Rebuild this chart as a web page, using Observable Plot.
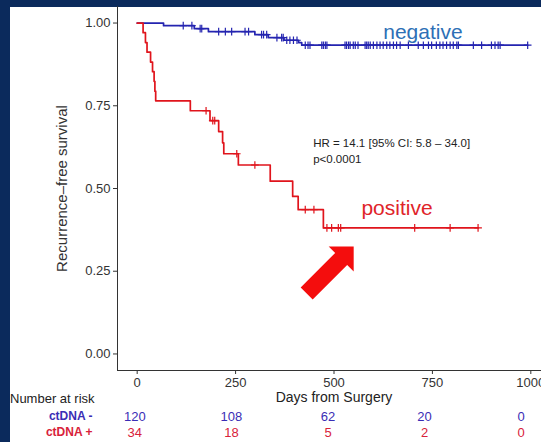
<!DOCTYPE html>
<html>
<head>
<meta charset="utf-8">
<script src="https://cdn.jsdelivr.net/npm/d3@7"></script>
<script src="https://cdn.jsdelivr.net/npm/@observablehq/plot@0.6"></script>
<style>
  html, body { margin: 0; padding: 0; }
  body {
    width: 541px; height: 442px; overflow: hidden; position: relative;
    background: #0b2a5c;
    font-family: "Liberation Sans", Arial, sans-serif;
  }
  #panel { position: absolute; left: 10px; top: 7px; width: 531px; height: 435px; background: #fff; }
  #chart { position: absolute; left: 0; top: 0; }
  #riskTitle { position: absolute; left: 10px; top: 391px; font-size: 13px; color: #222; }
  #risk { position: absolute; left: 0; top: 408px; }
</style>
</head>
<body>
<div id="panel"></div>
<div id="chart"></div>
<div id="riskTitle">Number at risk</div>
<div id="risk"></div>
<script>
// Kaplan–Meier estimate, ctDNA negative: event days and survival just after each event
const negStepDay  = [0, 67, 145, 181, 299, 333, 373, 410, 418];
const negStepSurv = [1, 0.992, 0.983, 0.974, 0.965, 0.956, 0.948, 0.941, 0.933];
// censored patients (days)
const negCensorDay = [117, 139, 160, 164, 207, 224, 240, 274, 283, 316, 321, 329, 355, 367, 371,
  380, 388, 397, 406, 427, 434, 439, 469, 473, 478, 482, 528, 532, 537, 541, 549, 554, 561,
  579, 583, 587, 592, 600, 609, 617, 625, 634, 642, 651, 659, 668, 689, 714, 727, 740, 748,
  760, 769, 777, 786, 795, 803, 812, 816, 854, 875, 900, 909, 917, 922, 992];

// Kaplan–Meier estimate, ctDNA positive
const posStepDay  = [0, 15, 21, 25, 34, 39, 43, 45, 47, 135, 185, 207, 217, 220, 257, 338, 395, 409, 473];
const posStepSurv = [1, 0.971, 0.941, 0.912, 0.882, 0.853, 0.824, 0.794, 0.765, 0.735, 0.705,
  0.672, 0.638, 0.605, 0.571, 0.522, 0.476, 0.436, 0.381];
const posCensorDay = [175, 192, 197, 253, 299, 427, 449, 482, 494, 511, 517, 705, 795, 866];

// Number at risk table
const riskDays   = [0, 250, 500, 750, 1000];
const atRiskNeg  = [120, 108, 62, 20, 0];
const atRiskPos  = [34, 18, 5, 2, 0];
const groups     = ["ctDNA -", "ctDNA +"];

const xTicks = [0, 250, 500, 750, 1000];
const yTicks = [0, 0.25, 0.5, 0.75, 1];

const BLUE = "#2424b0", RED = "#e0141c";

// survival value of a step function at a given day
function survAt(days, surv, t) {
  let s = surv[0];
  for (let i = 0; i < days.length; i++) if (days[i] <= t) s = surv[i];
  return s;
}
function curve(days, surv, censor) {
  const pts = days.map((d, i) => ({day: d, surv: surv[i]}));
  const last = censor[censor.length - 1];
  pts.push({day: last, surv: survAt(days, surv, last)});
  return pts;
}
function censors(days, surv, censor) {
  return censor.map(t => ({day: t, surv: survAt(days, surv, t)}));
}

const negCurve = curve(negStepDay, negStepSurv, negCensorDay);
const posCurve = curve(posStepDay, posStepSurv, posCensorDay);
const negMarks = censors(negStepDay, negStepSurv, negCensorDay);
const posMarks = censors(posStepDay, posStepSurv, posCensorDay);

// block arrow drawn with its tip at the anchor point, pointing up-right
const blockArrow = {
  draw(context) {
    const p = [[0, 0], [0, 25], [-6.5, 18.5], [-41, 53], [-53, 41], [-18.5, 6.5], [-25, 0]];
    context.moveTo(p[0][0], p[0][1]);
    for (let i = 1; i < p.length; i++) context.lineTo(p[i][0], p[i][1]);
    context.closePath();
  }
};

const font = "Liberation Sans, Arial, sans-serif";

const chart = Plot.plot({
  width: 550,
  height: 442,
  marginLeft: 117,
  marginRight: 0,
  marginTop: 6,
  marginBottom: 72,
  style: {fontFamily: font, background: "none", maxWidth: "none", color: "#333", overflow: "visible"},
  x: {domain: [-50, 1050]},
  y: {domain: [-0.05, 1.05]},
  marks: [
    Plot.axisY(yTicks, {
      tickFormat: d3.format(".2f"), tickSize: 4, tickPadding: 3, fontSize: 13, label: null
    }),
    Plot.axisY({
      ticks: [], tickSize: 0, fontSize: 15, fill: "#333",
      label: "Recurrence–free survival", labelAnchor: "center", labelArrow: "none", labelOffset: 61
    }),
    Plot.axisX(xTicks, {
      tickFormat: d3.format("d"), tickSize: 4, tickPadding: 3, fontSize: 13, label: null
    }),
    Plot.axisX({
      ticks: [], tickSize: 0, fontSize: 14, fill: "#222",
      label: "Days from Surgery", labelAnchor: "center", labelArrow: "none", labelOffset: 31
    }),
    Plot.ruleX([-50], {stroke: "#333"}),
    Plot.ruleY([-0.05], {stroke: "#333"}),
    Plot.line(negCurve, {x: "day", y: "surv", curve: "step-after", stroke: BLUE, strokeWidth: 1.7}),
    Plot.line(posCurve, {x: "day", y: "surv", curve: "step-after", stroke: RED, strokeWidth: 1.7}),
    Plot.dot(negMarks, {x: "day", y: "surv", symbol: "plus", r: 2.6, stroke: BLUE, strokeWidth: 1.2}),
    Plot.dot(posMarks, {x: "day", y: "surv", symbol: "plus", r: 2.6, stroke: RED, strokeWidth: 1.2}),
    Plot.text([{day: 726, surv: 0.973, label: "negative"}], {
      x: "day", y: "surv", text: "label", fill: "#2d70b6", fontSize: 21
    }),
    Plot.text([{day: 660, surv: 0.441, label: "positive"}], {
      x: "day", y: "surv", text: "label", fill: "#e0242a", fontSize: 21
    }),
    Plot.text([{day: 447, surv: 0.618, label: "HR = 14.1 [95% CI: 5.8 – 34.0]\np<0.0001"}], {
      x: "day", y: "surv", text: "label", textAnchor: "start", fill: "#222", fontSize: 11.5, lineHeight: 1.4
    }),
    Plot.dot([{day: 550, surv: 0.325}], {
      x: "day", y: "surv", symbol: blockArrow, r: 10, fill: "#f40d0d", stroke: "none"
    })
  ]
});
document.getElementById("chart").append(chart);

const riskRows = groups.flatMap((g, i) =>
  riskDays.map((d, j) => ({group: g, day: d, n: (i ? atRiskPos : atRiskNeg)[j]})));

const risk = Plot.plot({
  width: 540,
  height: 32,
  marginLeft: 115,
  marginRight: 0,
  marginTop: 0,
  marginBottom: 0,
  style: {fontFamily: font, background: "none", maxWidth: "none", overflow: "visible"},
  x: {domain: [-50, 1050], axis: null},
  y: {domain: groups, axis: null},
  color: {domain: groups, range: ["#3a2db5", "#d8223a"]},
  marks: [
    Plot.text(riskRows, {x: "day", y: "group", text: d => String(d.n), fill: "group", fontSize: 13}),
    Plot.text(groups, {
      y: d => d, text: d => d, fill: d => d, frameAnchor: "left", textAnchor: "end",
      dx: -23, fontWeight: "bold", fontSize: 12
    })
  ]
});
document.getElementById("risk").append(risk);
</script>
</body>
</html>
